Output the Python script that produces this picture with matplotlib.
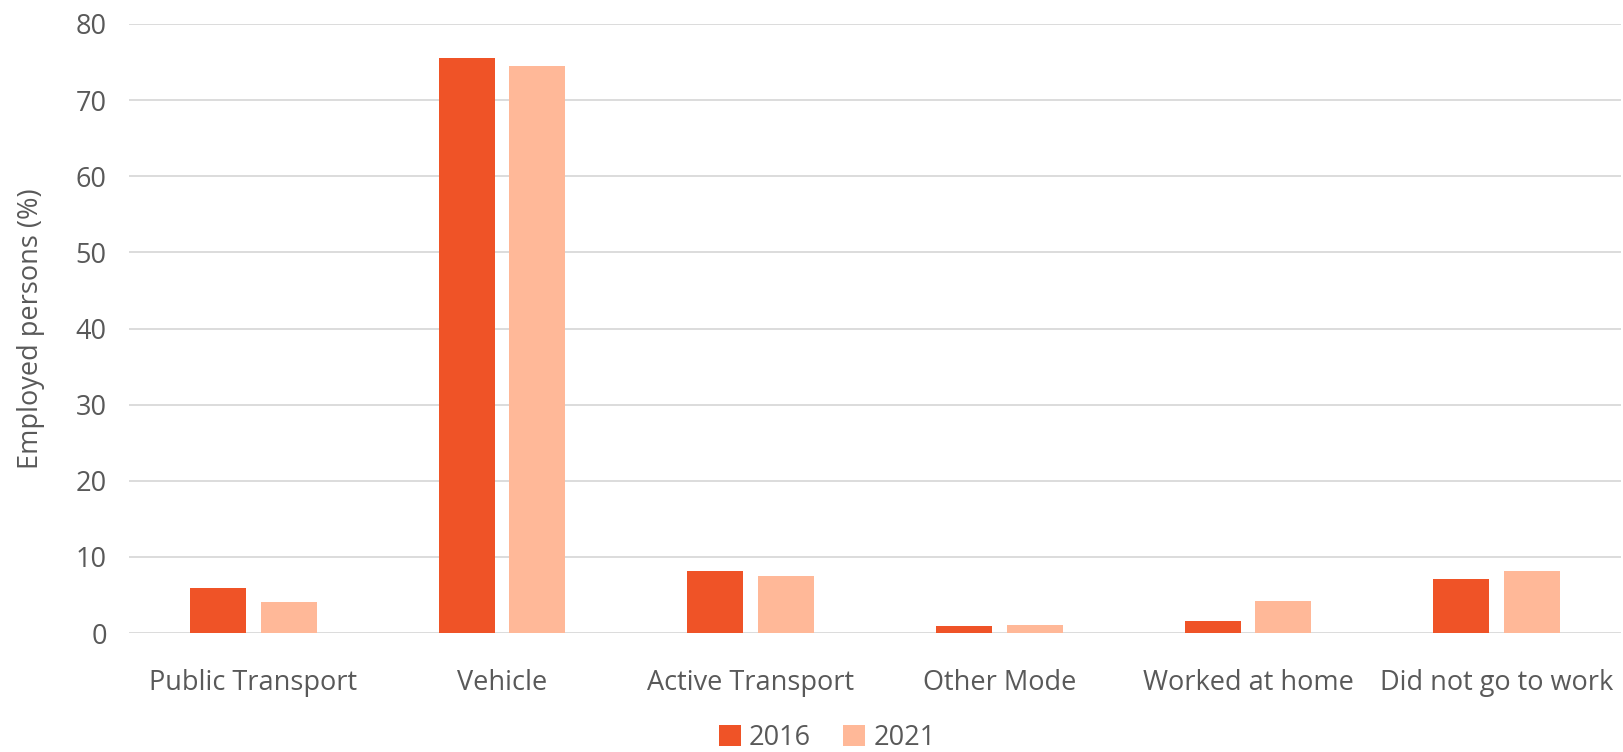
import numpy as np
import matplotlib.pyplot as plt

categories = ["Public Transport", "Vehicle", "Active Transport",
              "Other Mode", "Worked at home", "Did not go to work"]
vals_2016 = [5.9, 75.5, 8.1, 0.9, 1.6, 7.1]
vals_2021 = [4.1, 74.5, 7.5, 1.1, 4.2, 8.1]
yticks = [0, 10, 20, 30, 40, 50, 60, 70, 80]

C2016 = "#EF5327"
C2021 = "#FFB898"
TXT = "#595959"

plt.rcParams["font.family"] = ["Open Sans", "DejaVu Sans"]

fig = plt.figure(figsize=(16.24, 7.52), dpi=100)
ax = fig.add_axes([129 / 1624, 1 - 633 / 752, (1621 - 129) / 1624, (633 - 24) / 752])

x = np.arange(len(categories))
w = 0.225
ax.bar(x - 0.142, vals_2016, w, color=C2016, label="2016", zorder=3)
ax.bar(x + 0.142, vals_2021, w, color=C2021, label="2021", zorder=3)

ax.set_xlim(-0.5, len(categories) - 0.5)
ax.set_ylim(0, 80)
ax.set_yticks(yticks)
ax.set_xticks(x)
ax.set_xticklabels(categories)
ax.tick_params(axis="both", length=0, labelsize=19.5, colors=TXT)
ax.tick_params(axis="x", pad=26)
ax.tick_params(axis="y", pad=16)
ax.yaxis.grid(True, color="#D9D9D9", linewidth=1.3, zorder=0)
for s in ax.spines.values():
    s.set_visible(False)
ax.set_ylabel("Employed persons (%)", fontsize=19.5, color=TXT, labelpad=22)

ax.legend(loc="center", bbox_to_anchor=(0.468, -0.172), ncol=2, frameon=False,
          fontsize=19.5, labelcolor=TXT, handlelength=0.8, handleheight=0.8,
          handletextpad=0.3, columnspacing=1.2)

fig.savefig("out.png", dpi=100, facecolor="white")
